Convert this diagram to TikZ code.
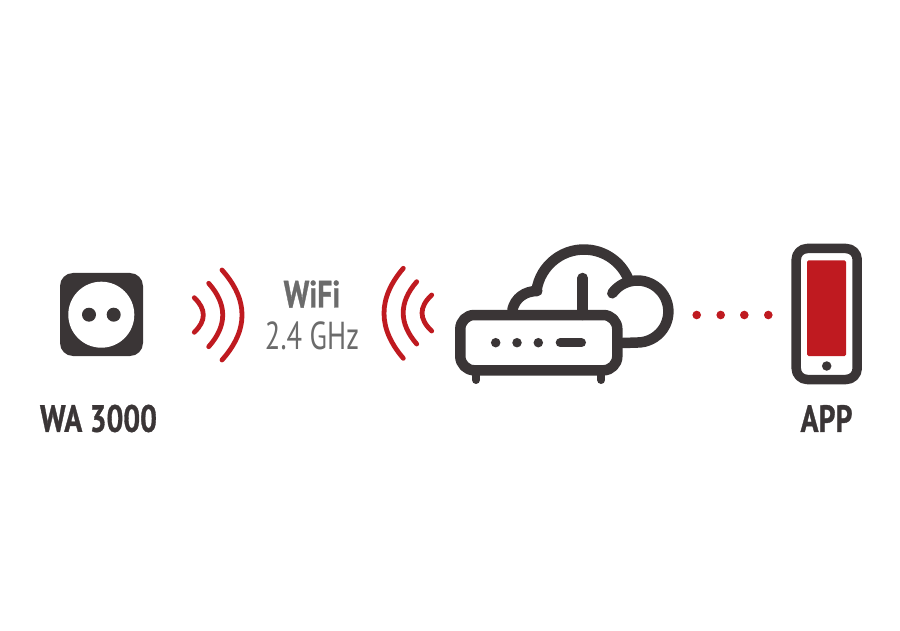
\documentclass[tikz,border=0pt]{standalone}
\usepackage{fontspec}
\newfontfamily\labelfont[FakeStretch=0.78,FakeBold=0.8]{PT Sans}
\newfontfamily\wififont[FakeStretch=0.73]{PT Sans}
\definecolor{icondark}{HTML}{3A3536}
\definecolor{iconred}{HTML}{BF1A20}
\definecolor{wifigray}{HTML}{6B6B6B}
\tikzset{
  iconline/.style = {draw=icondark, line width=10.5pt, line cap=round, line join=round},
  wave/.style     = {draw=iconred, line width=4.8pt, line cap=round},
  reddot/.style   = {circle, fill=iconred, inner sep=0pt, minimum size=8.6pt},
  darkdot/.style  = {circle, fill=icondark, inner sep=0pt, minimum size=9.5pt},
  caption/.style  = {font=\labelfont\bfseries\fontsize{38}{38}\selectfont, text=icondark, inner sep=0pt},
  wifitext/.style = {text=wifigray, inner sep=0pt}
}
\begin{document}
\begin{tikzpicture}[x=1pt, y=-1pt]
  \useasboundingbox (0,0) rectangle (900,631);
  % socket
  \fill[icondark, rounded corners=13pt] (60,273) rectangle (143,356);
  \fill[white] (101.3,314.7) circle [radius=33];
  \node[darkdot, minimum size=14pt] (holeA) at (89,314.7) {};
  \node[darkdot, minimum size=14pt] (holeB) at (113.7,314.7) {};
  \node[caption] (wa) at (98.5,418.5) {WA 3000};
  % waves
  \foreach \xa/\ya/\yb/\bend in {194.3/297.7/332.3/12, 208.7/283.3/346.7/18.7, 222/270/360/26.7,
                                 403.3/268.3/358.3/-25.7, 416.7/281.7/344/-18, 431.7/295/331/-12.9}
    \draw[wave] (\xa,\ya) .. controls ({\xa+\bend},{\ya+(\yb-\ya)/3}) and ({\xa+\bend},{\yb-(\yb-\ya)/3}) .. (\xa,\yb);
  \node[wifitext, font=\labelfont\bfseries\fontsize{38}{38}\selectfont] (wifi) at (312,294) {WiFi};
  \node[wifitext, font=\wififont\fontsize{39}{39}\selectfont] (ghz) at (312,335.5) {2.4 GHz};
  % cloud
  \draw[iconline] (512.3,310) .. controls (515,298) and (525,291) .. (537.3,291);
  \draw[iconline] (584,297.5)+(188:48) arc [start angle=188, end angle=340, radius=48];
  \draw[iconline] (612.3,293.3) arc [start angle=216, end angle=450, radius=31] -- (622.7,343);
  % router
  \fill[white, rounded corners=14pt] (460.3,315) rectangle (617.3,370.3);
  \draw[iconline, line width=8pt] (476,370) -- (476,380);
  \draw[iconline, line width=8pt] (601.3,370) -- (601.3,380);
  \draw[iconline, rounded corners=14pt] (460.3,315) rectangle (617.3,370.3);
  \draw[iconline] (582.7,278) -- (582.7,315);
  \node[darkdot] (ledA) at (495.7,342.7) {};
  \node[darkdot] (ledB) at (517,342.7) {};
  \node[darkdot] (ledC) at (538.3,342.7) {};
  \draw[icondark, line width=9pt, line cap=round] (560.2,342.7) -- (581.5,342.7);
  % dots
  \foreach \x [count=\i] in {696.7,720.7,744.3,768.3}
    \node[reddot] (dot\i) at (\x,315) {};
  % phone
  \draw[iconline, line width=9.5pt, rounded corners=11pt] (796.2,248.5) rectangle (857.2,379.5);
  \fill[iconred, rounded corners=1.5pt] (807,260.3) rectangle (846,356);
  \node[darkdot] (homekey) at (826.7,366) {};
  \node[caption] (app) at (826.5,418.5) {APP};
\end{tikzpicture}
\end{document}
